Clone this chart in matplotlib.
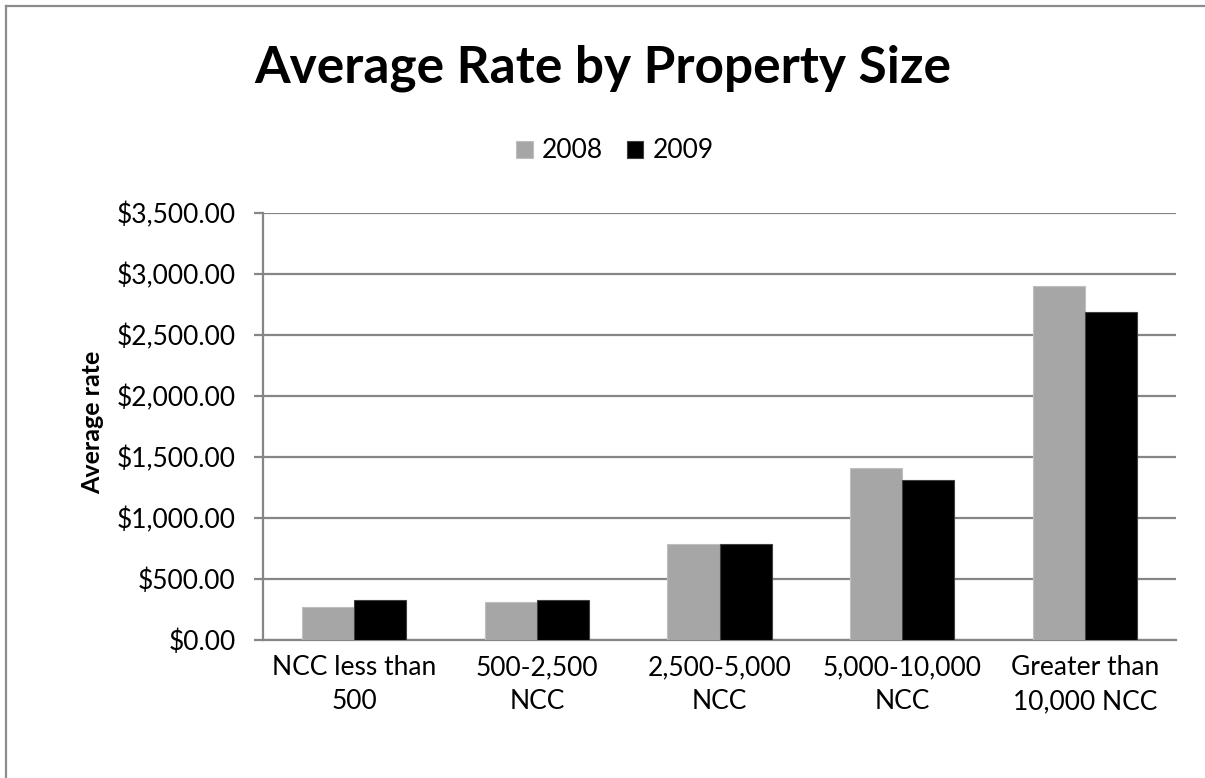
import matplotlib
matplotlib.use("Agg")
import matplotlib.pyplot as plt
from matplotlib.lines import Line2D
from matplotlib.ticker import FuncFormatter, MultipleLocator
import numpy as np

plt.rcParams['font.family'] = ['Lato', 'DejaVu Sans']

categories = ["NCC less than\n500", "500-2,500\nNCC", "2,500-5,000\nNCC",
              "5,000-10,000\nNCC", "Greater than\n10,000 NCC"]
rate_2008 = [274, 315, 786, 1407, 2900]
rate_2009 = [331, 331, 786, 1312, 2687]
series_names = ["2008", "2009"]

W, H = 1205, 778
fig = plt.figure(figsize=(W / 100, H / 100), dpi=100)
ax = fig.add_axes([263 / W, 1 - 640 / H, 913 / W, 427 / H])

x = np.arange(len(categories))
bw = 0.285
ax.bar(x - bw / 2, rate_2008, bw, color="#A6A6A6", edgecolor="#BFBFBF",
       linewidth=0.8, label=series_names[0], zorder=3)
ax.bar(x + bw / 2, rate_2009, bw, color="#000000", edgecolor="#404040",
       linewidth=0.8, label=series_names[1], zorder=3)

ax.set_xlim(-0.5, len(categories) - 0.5)
ax.set_ylim(0, 3500)
ax.yaxis.set_major_locator(MultipleLocator(500))
ax.yaxis.set_major_formatter(FuncFormatter(lambda v, p: f"${v:,.2f}"))
ax.grid(axis="y", color="#868686", linewidth=1.6, zorder=0)
ax.set_axisbelow(True)

for s in ["top", "right"]:
    ax.spines[s].set_visible(False)
for s in ["left", "bottom"]:
    ax.spines[s].set_color("#868686")
    ax.spines[s].set_linewidth(1.6)

ax.set_xticks(x)
ax.set_xticklabels(categories, fontsize=19, linespacing=1.45)
ax.tick_params(axis="x", length=0, pad=11)
ax.tick_params(axis="y", labelsize=19, length=6.5, width=1.6, color="#868686", pad=13)

fig.text(93 / W, 1 - 422 / H, "Average rate", rotation=90, ha="center", va="center",
         fontsize=18, fontweight="bold")

fig.text(603 / W, 1 - 82 / H, "Average Rate by Property Size",
         ha="center", va="baseline", fontsize=37, fontweight="bold")

fig.legend(loc="center", bbox_to_anchor=(615 / W, 1 - 151 / H), ncol=2,
           frameon=False, fontsize=19, handlelength=0.62, handleheight=0.62,
           handletextpad=0.35, columnspacing=0.9)

# chart-area frame: only the left and top edges fall inside the image
for xs, ys in [([6 / W, 6 / W], [-0.1, 1 - 6 / H]), ([6 / W, 1.1], [1 - 6 / H, 1 - 6 / H])]:
    fig.add_artist(Line2D(xs, ys, transform=fig.transFigure,
                          color="#8C8C8C", linewidth=1.6))

fig.savefig("out.png", dpi=100, facecolor="white")
